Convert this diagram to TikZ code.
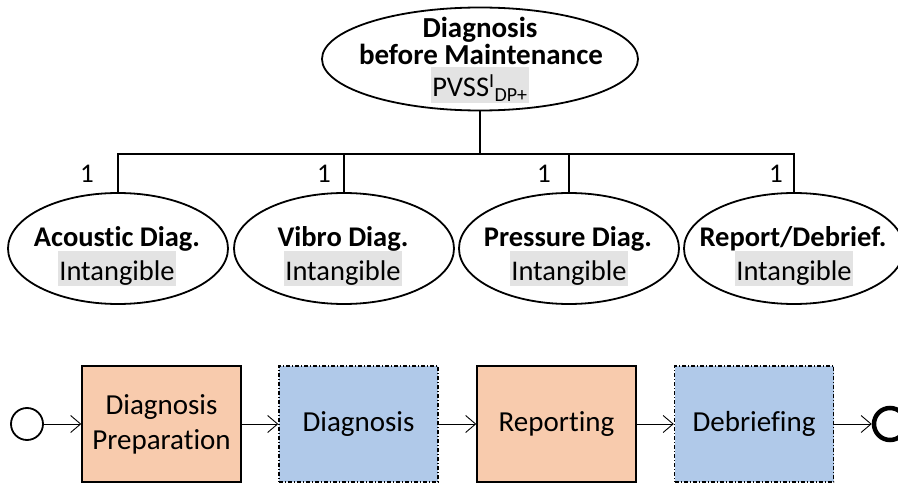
\documentclass[tikz,border=0pt]{standalone}
\usepackage{fontspec}
\setmainfont{Carlito}[Ligatures={NoCommon}]
\usetikzlibrary{shapes.geometric,arrows.meta}
\definecolor{orangefill}{HTML}{F8CBAD}
\definecolor{bluefill}{HTML}{B0C9E9}
\definecolor{hlgray}{HTML}{E3E3E3}
\begin{document}
\begin{tikzpicture}[x=1pt,y=-1pt,
  oval/.style={draw,ellipse,line width=1.8pt,inner sep=0pt},
  childoval/.style={oval,minimum width=220pt,minimum height=111pt},
  boldtxt/.style={anchor=base,inner sep=0pt,font=\fontsize{28.5}{33}\selectfont\bfseries},
  hltxt/.style={anchor=base,fill=hlgray,inner xsep=1pt,inner ysep=0pt,text height=29pt,text depth=6pt,font=\fontsize{28.5}{33}\selectfont},
  mult/.style={anchor=base,inner sep=0pt,font=\fontsize{27}{30}\selectfont},
  tree/.style={line width=1.8pt},
  taskbox/.style={draw,line width=1.4pt,minimum width=159pt,minimum height=116pt,align=center,inner sep=0pt,font=\fontsize{29}{35}\selectfont},
  solidtask/.style={taskbox,fill=orangefill},
  dashtask/.style={taskbox,fill=bluefill,dash pattern=on 4pt off 2pt on 1pt off 2pt},
  flow/.style={line width=0.9pt,-{Straight Barb[length=10pt,width=17pt,line width=0.9pt]}}
]
\useasboundingbox (0,0) rectangle (898,484);

% top
\node[oval,minimum width=316pt,minimum height=103pt] (top) at (480,59) {};
\node[boldtxt,font=\fontsize{29}{33}\selectfont\bfseries] (topa) at (480,38) {Diagnosis};
\node[boldtxt,font=\fontsize{29}{33}\selectfont\bfseries] (topb) at (481,65) {before Maintenance};
\node[hltxt,text height=30pt] (topc) at (480,97) {PVSS\textsuperscript{I}\textsubscript{DP+}};

% children
\node[childoval] (c1) at (118,248.5) {};
\node[childoval] (c2) at (344,248.5) {};
\node[childoval] (c3) at (569,248.5) {};
\node[childoval] (c4) at (794,248.5) {};
\node[boldtxt] (c1a) at (117,247) {Acoustic Diag.};
\node[boldtxt] (c2a) at (343,247) {Vibro Diag.};
\node[boldtxt] (c3a) at (568,247) {Pressure Diag.};
\node[boldtxt] (c4a) at (793,247) {Report/Debrief.};
\node[hltxt] (c1b) at (117,280) {Intangible};
\node[hltxt] (c2b) at (343,280) {Intangible};
\node[hltxt] (c3b) at (569,280) {Intangible};
\node[hltxt] (c4b) at (794,280) {Intangible};

\coordinate (bar) at (480,154);
\draw[tree] (top.south) -- (bar);
\foreach \c in {c1,c2,c3,c4} {\draw[tree] (bar) -| (\c.north);}

\node[mult] (m1) at (87,183) {1};
\node[mult] (m2) at (324,183) {1};
\node[mult] (m3) at (544,183) {1};
\node[mult] (m4) at (776,183) {1};

% process
\node[draw,circle,line width=1.8pt,minimum size=32pt,inner sep=0pt] (start) at (27,424) {};
\node[solidtask] (b1) at (161.5,424) {Diagnosis\\Preparation};
\node[dashtask] (b2) at (358.5,424) {Diagnosis};
\node[solidtask] (b3) at (556.5,424) {Reporting};
\node[dashtask] (b4) at (754,424) {Debriefing};
\node[draw,circle,line width=4.5pt,minimum size=32pt,inner sep=0pt] (end) at (890,424) {};

\draw[flow] (start) -- (b1);
\draw[flow] (b1) -- (b2);
\draw[flow] (b2) -- (b3);
\draw[flow] (b3) -- (b4);
\draw[flow] (b4) -- (end);
\end{tikzpicture}
\end{document}
